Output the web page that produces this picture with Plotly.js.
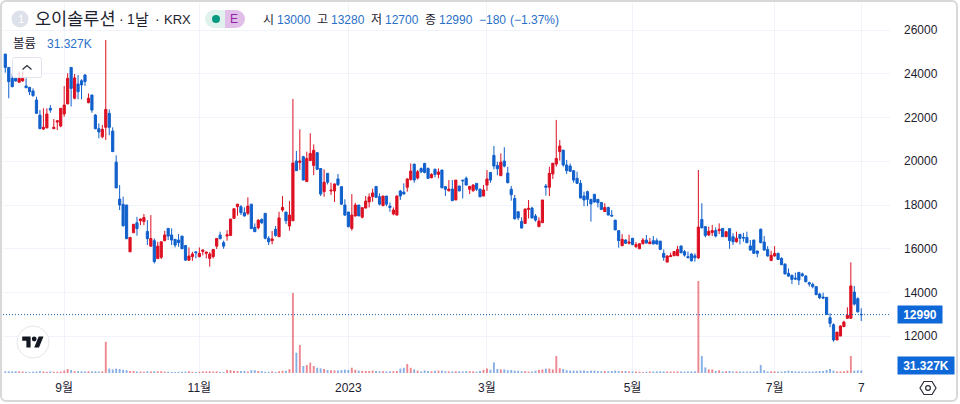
<!DOCTYPE html>
<html>
<head>
<meta charset="utf-8">
<script src="https://cdn.plot.ly/plotly-3.0.1.min.js"></script>
<style>
	body { margin: 0; background: #ffffff; }
	#frame { position: absolute; left: 0; top: 0; width: 954px; height: 398px; border: 2px solid #d8d8d8; border-radius: 6px; }
	#chart { position: absolute; left: 0; top: 0; width: 960px; height: 404px; }
</style>
</head>
<body>
<div id="frame"></div>
<div id="chart"></div>
<script>
// Daily bars, oldest first, ten to a row
const open_prices = [
	24900,24290,23790,23790,23610,23670,23440,23380,23210,22800,
	22110,21470,21530,22420,21490,21790,21610,22160,22620,24290,
	22880,23530,23680,23940,22680,23030,22110,21490,21120,21550,
	22190,21380,19960,18270,18030,18000,15860,16730,17190,17280,
	17240,16790,16120,16370,15550,15610,16370,16930,16630,16430,
	16400,16580,16150,15480,15640,15860,15640,15880,15790,15560,
	15640,16120,16630,16280,16580,16610,17390,17920,17920,17650,
	17620,18040,16980,16960,17340,17620,16480,16370,16890,16550,
	17770,17680,17040,17280,20010,19950,20210,19070,20030,19810,
	20390,19670,18610,19450,18640,18640,19190,18840,18000,17680,
	16930,17500,18000,17440,17860,18140,18380,18850,18380,17970,
	18410,17950,17590,17540,18640,18590,18810,19170,19870,19230,
	19670,19900,19670,19250,19630,19400,19600,18840,18650,18730,
	18230,18870,19140,19220,18720,18650,18990,18720,18410,18910,
	19490,20270,19810,19340,20010,19460,18720,18300,17690,17250,
	17160,17800,17860,17500,17010,17190,18870,18810,19420,19870,
	20440,20510,19830,19780,19570,19220,18990,18410,18610,18260,
	18490,18260,18120,17700,17890,17530,17310,16830,16140,16400,
	16250,16480,16100,16000,16230,16400,16230,16370,16370,16350,
	15790,15390,15640,15680,15680,16130,15870,15640,15760,15680,
	15580,17340,17010,16630,16740,16830,16830,16930,16550,16920,
	16550,16320,16660,16520,16520,16130,16400,15900,16890,16310,
	15970,15460,15670,15790,15560,15300,14880,14780,14660,14920,
	14850,14750,14450,14370,14270,13930,13790,13780,12850,12530,
	11830,12010,12440,12820,12820,14020,13720,13000
]
const high_prices = [
	24900,24290,23990,23870,24100,24100,23790,23380,23330,22950,
	22340,22420,22420,22570,21930,21850,22420,23440,24020,24290,
	23990,23940,23750,23990,23100,23030,22160,21730,21660,25540,
	22370,21550,20270,18910,18380,18000,16520,17120,17460,17390,
	17590,17310,17540,16470,16320,16320,16820,16930,16930,16430,
	16670,16580,16150,16060,15860,15880,16060,15970,15850,15850,
	15970,16470,16780,16370,16850,17360,17850,18040,18000,17890,
	18350,18040,17160,17340,17390,17620,16580,16810,17040,17690,
	18410,17680,18180,22850,20470,21460,20250,20440,21280,20770,
	20420,19670,19630,19450,19020,18990,19420,18840,18260,17680,
	18500,18100,18000,17880,18410,18530,18750,18850,18530,18410,
	18410,18110,17890,18440,18690,18990,19220,19900,19870,19600,
	19720,19930,19720,19450,19670,19670,19600,18870,19140,19140,
	19140,18870,19140,19300,18870,18960,18990,18760,18910,19600,
	19490,20700,19980,20360,20640,19750,18870,18460,17720,17440,
	17820,18230,17920,17590,17440,18230,18960,19750,19910,21890,
	20970,20510,20060,19900,19570,19520,19140,18610,18660,18260,
	18500,18260,18120,18080,17920,17770,17310,16830,16670,16430,
	16640,16480,16310,16250,16490,16630,16490,16580,16480,16350,
	15970,15700,15820,15900,16130,16130,15940,15870,15790,15790,
	19600,18080,17040,17010,17090,16980,17160,16930,16780,16920,
	16710,16780,16660,16730,16780,16400,16400,15900,16930,16580,
	16120,15910,16120,15820,15610,15330,15100,14830,14910,14920,
	14910,14800,14490,14450,14270,13990,13990,13780,13050,12590,
	12190,12500,12710,13320,15380,14300,13780,13280
]
const low_prices = [
	24050,22880,23380,23640,23610,23640,23360,23030,22950,22160,
	21470,21430,21500,22220,21470,21430,21550,22040,22620,22500,
	22830,22830,22830,23440,22650,22220,21460,21050,21050,20970,
	21190,20440,18780,17770,17010,16460,15860,16730,16600,17080,
	17080,16170,16090,15330,15550,15530,16340,16400,16170,16060,
	16090,15990,15450,15450,15450,15560,15610,15700,15560,15180,
	15560,15990,16430,16000,16370,16580,17360,17510,17540,17470,
	17540,16890,16770,16890,17130,16430,16170,16200,16550,16550,
	17690,17130,16830,17280,19570,19600,19140,19070,20010,19370,
	19600,18410,18380,18940,18460,18140,18870,18000,17500,16980,
	16830,17470,17500,17390,17850,17890,18150,18330,17980,17950,
	17950,17690,17530,17530,18230,18500,18610,19110,19020,19170,
	19450,19450,19200,19220,19260,19220,18760,18410,18620,18180,
	18230,18640,18300,18910,18500,18610,18640,18350,18410,18650,
	19020,19630,19360,19340,19720,18990,18200,17340,17310,16920,
	17130,17390,17380,17240,17010,17190,18430,18410,19190,19750,
	20030,19750,19420,19510,19020,18960,18300,17950,17950,17240,
	18110,17890,17770,17700,17530,17470,16860,16050,16120,16220,
	16200,16160,16030,15990,16200,16250,16220,16200,16190,15940,
	15450,15390,15620,15670,15670,15790,15640,15580,15420,15410,
	15530,16920,16520,16580,16580,16520,16670,16550,16550,16000,
	16170,16280,16200,16320,16250,15910,15760,15610,16250,15910,
	15640,15440,15640,15490,15260,14830,14720,14390,14570,14340,
	14720,14480,14270,14190,13890,13700,13700,12970,12410,11750,
	11830,12010,12420,12800,12820,13410,13080,12700
]
const close_prices = [
	24290,23640,23410,23670,23790,23790,23360,23180,23000,22190,
	21490,21550,22160,22340,21550,21850,22420,22570,23790,23330,
	23810,23180,23490,23640,22880,22340,21490,21340,21460,22370,
	21550,20440,18780,18000,17050,16460,16520,17120,16920,17360,
	17430,16460,16470,15410,16120,16320,16630,16580,16400,16170,
	16280,16000,15480,15670,15760,15820,15790,15940,15850,15760,
	15970,16470,16460,16120,16640,17360,17830,18040,17650,17500,
	17950,16930,16780,17310,17190,16480,16320,16450,16610,17410,
	17890,17280,17540,19920,19570,20010,19140,20130,20360,20500,
	19630,18500,19040,19040,18680,18960,18930,18040,17540,17010,
	17540,18000,17500,17880,18180,18370,18550,18350,18040,18410,
	18040,17890,17770,18410,18410,18500,19190,19550,19140,19520,
	19520,19490,19220,19400,19400,19510,18790,18720,18730,18200,
	19140,18640,19110,18910,18850,18910,18720,18380,18690,19190,
	19140,19780,19660,19960,19780,19020,18470,17370,17420,16950,
	17820,17850,17410,17310,17270,18230,18810,19450,19910,20130,
	20700,19830,19570,19540,19140,18990,18320,18230,18260,18050,
	18140,18110,17800,17890,17540,17500,16860,16370,16430,16250,
	16310,16190,16190,16230,16400,16260,16310,16220,16220,15970,
	15610,15670,15680,15870,15970,15820,15710,15590,15450,15590,
	16990,16960,16610,16800,16830,16580,16890,16550,16780,16370,
	16320,16480,16480,16490,16280,15940,15790,15790,16280,15940,
	15670,15700,15790,15510,15270,14850,14750,14600,14620,14570,
	14770,14490,14390,14270,13900,13760,13750,13000,12590,11830,
	12190,12470,12650,12960,14300,13470,13120,12990
]
// Volume in thousands of shares
const volumes = [
	20,20,20,22,20,18,15,12,15,18,
	22,18,14,20,15,15,18,30,50,37,
	22,22,22,20,22,20,20,18,20,390,
	55,45,55,50,40,35,25,25,18,18,
	15,22,20,22,20,22,15,15,12,12,
	15,15,18,22,15,12,15,20,20,22,
	18,20,15,12,38,35,28,25,25,25,
	18,35,35,25,22,15,15,20,12,22,
	28,28,48,1000,254,350,87,100,130,87,
	66,58,50,37,35,32,30,37,42,38,
	66,40,30,28,25,25,30,25,22,22,
	20,20,22,25,55,65,112,65,45,30,
	20,32,25,22,28,30,30,22,20,20,
	22,22,20,22,22,20,15,25,40,55,
	40,133,50,45,45,35,38,30,28,22,
	22,18,20,28,38,45,55,55,45,212,
	60,50,35,30,30,28,30,30,25,30,
	30,25,22,25,22,25,30,25,22,25,
	20,20,18,15,12,15,18,18,20,22,
	20,18,18,18,20,18,18,20,20,22,
	1150,212,70,45,45,25,35,18,22,25,
	20,20,18,18,18,18,18,22,100,35,
	20,22,20,18,18,22,30,25,20,20,
	18,18,18,18,20,25,25,38,50,30,
	20,20,22,30,212,30,33,31.327
]

const month_ticks = [17, 56, 99, 139, 181, 222, 247]
const month_labels = ["9월", "11월", "2023", "3월", "5월", "7월", "7"]
const price_ticks = [26000, 24000, 22000, 20000, 18000, 16000, 14000, 12000]

const last_price = 12990
const last_volume_label = "31.327K"
const quote_values = ["13000", "13280", "12700", "12990"]
const quote_names = ["시", "고", "저", "종"]

const up_color = '#dc1022'
const down_color = '#1160cc'
const text_color = '#1e2230'
const quote_color = '#2a6fc9'
const font_family = '"Liberation Sans", "Noto Sans CJK KR", sans-serif'

// plot box in page pixels, only used to place the header and icons
const box = {left: 3, right: 890, top: 3, bottom: 376}
const paper_x = px => (px - box.left) / (box.right - box.left)
const paper_y = py => 1 - (py - box.top) / (box.bottom - box.top)

function label(text, x, y, size, color) {
	return {
		text: text, showarrow: false,
		xref: 'paper', yref: 'paper', x: paper_x(x), y: paper_y(y),
		xanchor: 'left', yanchor: 'middle', borderpad: 0,
		font: {size: size, color: color, family: font_family}
	}
}

function pixel_rect(x0, y0, x1, y1, fill, line) {
	return {
		type: 'rect', xref: 'paper', yref: 'paper', layer: 'above',
		x0: paper_x(x0), x1: paper_x(x1), y0: paper_y(y0), y1: paper_y(y1),
		fillcolor: fill, line: line || {width: 0}
	}
}

function pixel_circle(x, y, r, fill, line) {
	return Object.assign(pixel_rect(x - r, y - r, x + r, y + r, fill, line), {type: 'circle'})
}

function svg_image(svg, x, y, w, h) {
	return {
		source: 'data:image/svg+xml,' + encodeURIComponent(svg),
		xref: 'paper', yref: 'paper', layer: 'above',
		x: paper_x(x), y: paper_y(y),
		sizex: w / (box.right - box.left), sizey: h / (box.bottom - box.top),
		xanchor: 'left', yanchor: 'top', sizing: 'stretch'
	}
}

// Icons keep their own background, shapes would sit on top of them
const tv_logo = '<svg xmlns="http://www.w3.org/2000/svg" width="34" height="34" viewBox="0 0 34 34"><circle fill="#ffffff" stroke="#e4e6ec" cx="17" cy="17" r="16"/><g transform="translate(6.2 11.6) scale(0.6)"><path fill="#131722" d="M14 18H7V7H0V0h14v18zM28 18h-8L27.5 0h8L28 18z"/><circle fill="#131722" cx="20" cy="4" r="4"/></g></svg>'
const gear_icon = '<svg xmlns="http://www.w3.org/2000/svg" width="18" height="18" viewBox="0 0 18 18"><path fill="none" stroke="#2a2e39" stroke-width="1.2" d="M5 2.5h8l4 6.5-4 6.5H5L1 9z"/><circle fill="none" stroke="#2a2e39" stroke-width="1.2" cx="9" cy="9" r="2.4"/></svg>'
const collapse_button = '<svg xmlns="http://www.w3.org/2000/svg" width="30" height="21" viewBox="0 0 30 21"><rect x="0.5" y="0.5" width="29" height="20" rx="2" fill="#ffffff" fill-opacity="0.75" stroke="#e0e3eb"/><path fill="none" stroke="#2a2e39" stroke-width="1.2" d="M10.5 12.5l4.5-4 4.5 4"/></svg>'

let bar_index = open_prices.map((v, i) => i)
let volume_colors = close_prices.map((c, i) =>
	c >= open_prices[i] ? 'rgba(220,16,34,0.5)' : 'rgba(17,96,204,0.5)')

let volume_trace = {
	type: 'bar', x: bar_index, y: volumes, yaxis: 'y2', width: 0.55,
	marker: {color: volume_colors, line: {width: 0}},
	hoverinfo: 'skip'
}

let candle_trace = {
	type: 'candlestick', x: bar_index,
	open: open_prices, high: high_prices, low: low_prices, close: close_prices,
	increasing: {line: {color: up_color, width: 1}, fillcolor: up_color},
	decreasing: {line: {color: down_color, width: 1}, fillcolor: down_color},
	hoverinfo: 'skip'
}

let annotations = [
	label("1", 17, 19, 11, '#ffffff'),
	label("오이솔루션", 34, 19, 17.5, text_color),
	label("·", 118, 19, 14, text_color),
	label("1", 126, 19, 14, text_color),
	label("날", 134, 19, 15, text_color),
	label("·", 154, 19, 14, text_color),
	label("KRX", 163, 19, 13, text_color),
	label("E", 229, 19, 12, '#8e24aa'),
	label("볼륨", 12, 44, 12.5, text_color),
	label(last_volume_label, 46, 44, 12, quote_color),
	label("−180", 478, 20, 12, quote_color),
	label("(−1.37%)", 509, 20, 12, quote_color),
	// value tags on the price axis
	{
		text: "<b>" + last_price + "</b>", showarrow: false, xref: 'paper', yref: 'y',
		x: paper_x(897), y: last_price, xanchor: 'left', yanchor: 'middle',
		width: 44, height: 17, borderpad: 0, bgcolor: '#0f68d8', align: 'center',
		font: {size: 12, color: '#ffffff', family: font_family}
	},
	{
		text: "<b>" + last_volume_label + "</b>", showarrow: false, xref: 'paper', yref: 'paper',
		x: paper_x(897), y: paper_y(365), xanchor: 'left', yanchor: 'middle',
		width: 56, height: 17, borderpad: 0, bgcolor: '#0f68d8', align: 'center',
		font: {size: 12, color: '#ffffff', family: font_family}
	}
]

const quote_name_x = [262, 316, 370, 424]
const quote_value_x = [276, 330, 384, 438]
for (let i = 0; i < quote_names.length; i++) {
	annotations.push(label(quote_names[i], quote_name_x[i], 20, 12, text_color))
	annotations.push(label(quote_values[i], quote_value_x[i], 20, 12, quote_color))
}

let shapes = [
	pixel_circle(20, 19, 8.5, '#dde1ea'),
	// market status pill
	pixel_circle(214, 19, 9, '#e0f1ee'),
	pixel_rect(214, 10, 225, 28, '#e0f1ee'),
	pixel_circle(236, 19, 9, '#e1bee7'),
	pixel_rect(225, 10, 236, 28, '#e1bee7'),
	pixel_circle(216, 19, 4, '#089981'),
	// last price line
	{
		type: 'line', xref: 'paper', yref: 'y', x0: 0, x1: 1, y0: last_price, y1: last_price,
		line: {color: '#0f5fae', width: 1, dash: '1px,2px'}, layer: 'above'
	}
]

let layout = {
	width: 960, height: 404,
	margin: {l: box.left, r: 960 - box.right, t: box.top, b: 404 - box.bottom, pad: 0},
	paper_bgcolor: 'rgba(0,0,0,0)',
	plot_bgcolor: 'rgba(0,0,0,0)',
	showlegend: false,
	boxgap: 0.1,
	font: {family: font_family, color: text_color, size: 12},
	xaxis: {
		type: 'linear', range: [-0.66, 255.3], rangeslider: {visible: false},
		tickmode: 'array', tickvals: month_ticks, ticktext: month_labels,
		showgrid: true, gridcolor: '#f0f3fa', gridwidth: 1, zeroline: false, showline: false,
		ticks: '', ticklabelstandoff: 3, tickfont: {size: 12, color: text_color}
	},
	yaxis: {
		side: 'right', range: [10184, 27234],
		tickmode: 'array', tickvals: price_ticks, ticktext: price_ticks.map(String),
		showgrid: true, gridcolor: '#f0f3fa', gridwidth: 1, zeroline: false, showline: false,
		ticks: '', ticklabelstandoff: 13, tickfont: {size: 12, color: text_color}
	},
	yaxis2: {
		overlaying: 'y', side: 'right', range: [-37.5, 4625],
		showgrid: false, zeroline: false, showticklabels: false, ticks: ''
	},
	shapes: shapes,
	annotations: annotations,
	images: [
		svg_image(tv_logo, 16, 325, 34, 34),
		svg_image(gear_icon, 919, 379, 18, 18),
		svg_image(collapse_button, 12, 57, 30, 21)
	]
}

Plotly.newPlot('chart', [volume_trace, candle_trace], layout, {displayModeBar: false, staticPlot: true})
</script>
</body>
</html>
